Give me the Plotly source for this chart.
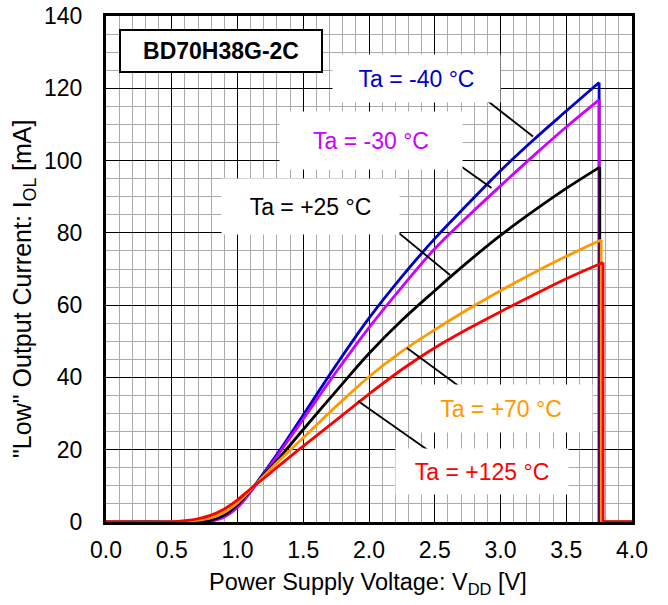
import plotly.graph_objects as go

# ---------------- data ----------------
V_PTS = [0.0, 0.5, 0.6, 0.7, 0.8, 0.9, 1.0, 1.1, 1.2, 1.3, 1.5, 1.75, 2.0, 2.25, 2.5, 2.75, 3.0, 3.25, 3.5]

I_M40 = [0, 0, 0, 0.05, 0.3, 1.6, 4.3, 8.6, 13.6, 18.7, 29.6, 43.4, 56.4, 67.9, 78.4, 87.9, 97.2, 105.7, 113.7]
I_M30 = [0, 0, 0, 0.04, 0.25, 1.4, 4.0, 8.3, 13.2, 18.2, 28.5, 41.5, 53.8, 65.0, 75.6, 84.5, 93.0, 101.3, 109.3]
I_P25 = [0, 0, 0.02, 0.12, 0.5, 1.9, 4.8, 8.8, 13.0, 17.0, 25.6, 36.2, 46.6, 55.8, 64.0, 71.9, 79.3, 86.0, 92.3]
I_P70 = [0, 0.02, 0.15, 0.5, 1.2, 2.7, 5.3, 8.9, 12.7, 16.4, 23.3, 32.0, 40.2, 47.2, 53.2, 58.8, 64.0, 68.9, 73.5]
I_P125 = [0, 0.05, 0.35, 0.9, 1.9, 3.6, 6.1, 9.2, 12.1, 15.1, 21.0, 28.2, 35.4, 42.2, 48.2, 53.4, 58.2, 62.8, 67.3]

# end of each curve (voltage where the output cuts off, current there)
V_END = [3.75, 3.75, 3.755, 3.765, 3.78]
I_END = [121.6, 116.8, 98.2, 78.0, 71.8]
V_MAX = 4.0

SERIES_NAMES = ["Ta = -40 °C", "Ta = -30 °C", "Ta = +25 °C", "Ta = +70 °C", "Ta = +125 °C"]
SERIES_I = [I_M40, I_M30, I_P25, I_P70, I_P125]
COLORS = ["#0000C8", "#CC00FF", "#000000", "#FF9900", "#FF0000"]

X_TICKS = [0.0, 0.5, 1.0, 1.5, 2.0, 2.5, 3.0, 3.5, 4.0]
Y_TICKS = [0, 20, 40, 60, 80, 100, 120, 140]

# ---------------- layout geometry ----------------
W, H = 668, 605
ML, MT = 106, 16
PW, PH = 526, 506
MR, MB = W - ML - PW, H - MT - PH
X_RANGE = [0, 4]
Y_RANGE = [0, 140]


def px2x(px):
    return X_RANGE[0] + (px - ML) / PW * (X_RANGE[1] - X_RANGE[0])


def px2y(py):
    return Y_RANGE[0] + (MT + PH - py) / PH * (Y_RANGE[1] - Y_RANGE[0])


FONT = "Liberation Sans, Arial, sans-serif"

fig = go.Figure()
for name, ys, ve, ie, col in zip(SERIES_NAMES, SERIES_I, V_END, I_END, COLORS):
    fig.add_trace(go.Scatter(
        x=V_PTS + [ve], y=ys + [ie], mode="lines", name=name,
        line=dict(color=col, width=2.8, shape="spline", smoothing=1.0),
        showlegend=False, hoverinfo="skip"))
    fig.add_trace(go.Scatter(
        x=[ve, ve, V_MAX], y=[ie, 0, 0], mode="lines", name=name,
        line=dict(color=col, width=2.8), showlegend=False, hoverinfo="skip"))

# label boxes: (text, color, box center px, box w, box h)
LABELS = [
    ("Ta = -40 °C", COLORS[0], (416.5, 78.5), 167, 47),
    ("Ta = -30 °C", COLORS[1], (370.8, 140.0), 182, 57),
    ("Ta = +25 °C", COLORS[2], (310.0, 206.0), 177, 55),
    ("Ta = +70 °C", COLORS[3], (500.8, 408.3), 182, 47),
    ("Ta = +125 °C", COLORS[4], (482.0, 471.0), 172, 45),
]
for txt, col, (cx, cy), bw, bh in LABELS:
    fig.add_annotation(x=px2x(cx), y=px2y(cy), xref="x", yref="y", text=txt,
                       showarrow=False, font=dict(family=FONT, size=23, color=col),
                       bgcolor="white", width=bw, height=bh, borderpad=0,
                       xanchor="center", yanchor="middle")

# leader lines (screen pixel endpoints)
LEADERS = [
    ((480, 95), (533, 136.5)),
    ((438, 150), (491.5, 188)),
    ((383, 220), (450, 275)),
    ((407, 348), (460, 387)),
    ((358, 401), (432, 453)),
]
for (x0, y0), (x1, y1) in LEADERS:
    fig.add_shape(type="line", x0=px2x(x0), y0=px2y(y0), x1=px2x(x1), y1=px2y(y1),
                  xref="x", yref="y", line=dict(color="black", width=1.8), layer="above")

# part number box
fig.add_annotation(x=px2x(220.5), y=px2y(51), xref="x", yref="y", text="<b>BD70H38G-2C</b>",
                   showarrow=False, font=dict(family=FONT, size=23, color="black"),
                   bgcolor="white", bordercolor="black", borderwidth=2,
                   width=200, height=40, borderpad=0, xanchor="center", yanchor="middle")

# axis titles
fig.add_annotation(x=(24 - ML) / PW, y=(MT + PH - 289) / PH, xref="paper", yref="paper",
                   text='"Low" Output Current: I<sub>OL</sub> [mA]', textangle=-90,
                   showarrow=False, font=dict(family=FONT, size=25, color="black"),
                   xanchor="center", yanchor="middle")
fig.add_annotation(x=(368 - ML) / PW, y=(MT + PH - 583) / PH, xref="paper", yref="paper",
                   text="Power Supply Voltage: V<sub>DD</sub> [V]",
                   showarrow=False, font=dict(family=FONT, size=23.5, color="black"),
                   xanchor="center", yanchor="middle")

axis_common = dict(
    showline=True, linecolor="black", linewidth=3, mirror=True,
    showgrid=True, gridcolor="black", gridwidth=1, zeroline=False,
    ticks="", tickfont=dict(family=FONT, size=23, color="black"),
)
fig.update_xaxes(range=X_RANGE, tickvals=X_TICKS, ticktext=[f"{v:.1f}" for v in X_TICKS],
                 ticklabelstandoff=5,
                 minor=dict(dtick=0.1, showgrid=True, gridcolor="#ABABAB", gridwidth=1, ticks=""),
                 **axis_common)
fig.update_yaxes(range=Y_RANGE, tickvals=Y_TICKS, ticktext=[str(v) for v in Y_TICKS],
                 ticklabelstandoff=16,
                 minor=dict(dtick=5, showgrid=True, gridcolor="#ABABAB", gridwidth=1, ticks=""),
                 **axis_common)

fig.update_layout(width=W, height=H, margin=dict(l=ML, r=MR, t=MT, b=MB, autoexpand=False),
                  paper_bgcolor="white", plot_bgcolor="white",
                  font=dict(family=FONT, color="black"))

fig.write_html("out.html", config={"displayModeBar": False, "staticPlot": True},
               post_script="document.body.style.margin='0px';")
